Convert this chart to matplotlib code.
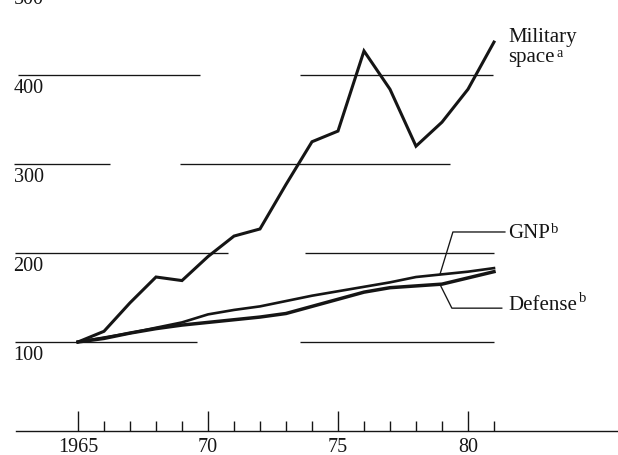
import numpy as np
import matplotlib
matplotlib.use('Agg')
import matplotlib.pyplot as plt
from matplotlib.ticker import FixedLocator

# Index values, 1965 = 100
years = list(range(1965, 1982))
military_space = [100, 112, 144, 173, 169, 196, 219, 227, 277, 325, 337, 427, 384, 320, 347, 384, 437]
gnp = [100, 105, 110, 116, 122, 131, 136, 140, 146, 152, 157, 162, 167, 173, 176, 179, 183]
defense = [100, 104, 110, 115, 119, 122, 125, 128, 132, 140, 148, 156, 161, 163, 165, 172, 179]

grid_values = [100, 200, 300, 400, 500]
grid_labels = ['100', '200', '300', '400', '500']
major_years = [1965, 1970, 1975, 1980]
major_labels = ['1965', '70', '75', '80']

ink = '#151515'
serif = ['Liberation Serif', 'DejaVu Serif']

fig = plt.figure(figsize=(6.18, 4.56), dpi=100)
ax = fig.add_axes([0, 0, 1, 1])
ax.set_xlim(1962.0, 1985.77)
ax.set_ylim(-27, 485.4)

# broken, scanned-looking horizontal guide lines (pieces in years)
pieces = {
    100: [(1962.58, 1969.58), (1973.54, 1981.0)],
    200: [(1962.58, 1970.77), (1973.73, 1981.0)],
    300: [(1962.54, 1966.23), (1968.92, 1979.3)],
    400: [(1962.69, 1969.69), (1973.54, 1980.95)],
}
for v, segs in pieces.items():
    for a, b in segs:
        ax.plot([a, b], [v, v], color=ink, lw=0.95, solid_capstyle='butt')

for v, lab in zip(grid_values, grid_labels):
    ax.text(1962.52, v - 3, lab, ha='left', va='top', fontsize=14.5,
            family=serif, color=ink)

ax.plot(years, military_space, color=ink, lw=2.2, solid_joinstyle='miter')
ax.plot(years, gnp, color=ink, lw=1.9)
ax.plot(years, defense, color=ink, lw=2.5)

# x axis at zero with ticks pointing up
for s in ['top', 'right', 'left']:
    ax.spines[s].set_visible(False)
ax.spines['bottom'].set_position(('data', 0))
ax.spines['bottom'].set_bounds(1962.6, 1985.77)
ax.spines['bottom'].set_color(ink)
ax.spines['bottom'].set_linewidth(1.0)
ax.xaxis.set_major_locator(FixedLocator(major_years))
ax.xaxis.set_minor_locator(FixedLocator([y for y in years if y not in major_years]))
ax.set_xticklabels(major_labels, family=serif, fontsize=14.5, color=ink)
ax.tick_params(axis='x', which='major', direction='in', length=14.5, width=1.0,
               color=ink, pad=4)
ax.tick_params(axis='x', which='minor', direction='in', length=7.5, width=1.0,
               color=ink)
ax.set_yticks([])

# labels
ax.text(1981.54, 443.8, 'Military', fontsize=15, family=serif, color=ink,
        va='center', ha='left')
ax.text(1981.54, 421, 'space', fontsize=15, family=serif, color=ink,
        va='center', ha='left')
ax.text(1983.4, 425, 'a', fontsize=10, family=serif, color=ink,
        va='center', ha='left')

# leader lines for GNP and Defense
x0 = 1978.92
g0 = np.interp(x0, years, gnp)
d0 = np.interp(x0, years, defense)
ax.plot([x0, 1979.42, 1981.42], [g0, 223.6, 223.6], color=ink, lw=0.95)
ax.plot([x0, 1979.38, 1981.3], [d0, 138, 138], color=ink, lw=0.95)
ax.text(1981.54, 222.5, 'GNP', fontsize=15, family=serif, color=ink,
        va='center', ha='left')
ax.text(1983.2, 228, 'b', fontsize=10.5, family=serif, color=ink,
        va='center', ha='left')
ax.text(1981.54, 142.5, 'Defense', fontsize=15, family=serif, color=ink,
        va='center', ha='left')
ax.text(1984.27, 150, 'b', fontsize=10.5, family=serif, color=ink,
        va='center', ha='left')

fig.savefig('out.png', dpi=100)
